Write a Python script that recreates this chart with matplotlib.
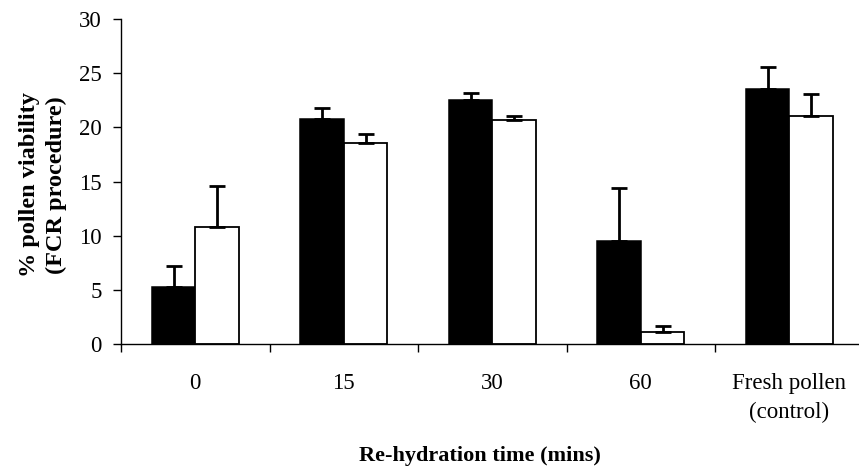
import matplotlib.pyplot as plt
import numpy as np

# viabilidade do pólen (método FCR) por tempo de re-hidratação
categories = ['0', '15', '30', '60', 'Fresh pollen\n(control)']
black_values = [5.3, 20.8, 22.5, 9.5, 23.5]
black_err = [1.9, 1.0, 0.7, 4.9, 2.1]
white_values = [10.8, 18.6, 20.7, 1.1, 21.0]
white_err = [3.8, 0.8, 0.3, 0.6, 2.1]
y_ticks = [0, 5, 10, 15, 20, 25, 30]

plt.rcParams['font.family'] = ['Liberation Serif', 'DejaVu Serif']

fig = plt.figure(figsize=(8.59, 4.69), dpi=100)
ax = fig.add_axes([0.1409, 0.2665, 0.8644, 0.693])

x = np.arange(len(categories))
w = 0.293

# barras com barra de erro só para cima
ax.bar(x - w / 2, black_values, w, color='black', edgecolor='black', linewidth=1.1,
       yerr=[np.zeros(len(x)), black_err],
       error_kw=dict(ecolor='black', elinewidth=2, capsize=5.5, capthick=2))
ax.bar(x + w / 2, white_values, w, color='white', edgecolor='black', linewidth=1.3,
       yerr=[np.zeros(len(x)), white_err],
       error_kw=dict(ecolor='black', elinewidth=2, capsize=5.5, capthick=2))

ax.set_xlim(-0.5, len(categories) - 0.5)
ax.set_ylim(0, 30)
ax.set_yticks(y_ticks)

ax.set_xticks(x)
ax.set_xticklabels(categories)
for t in ax.get_xticklabels():
    t.set_linespacing(1.45)
ax.set_xticks(np.arange(len(categories)) - 0.5, minor=True)
ax.tick_params(axis='x', which='major', length=0, pad=21, labelsize=16.5)
ax.tick_params(axis='x', which='minor', length=6, width=1, direction='out')
ax.tick_params(axis='y', length=6, width=1, direction='out', labelsize=16.5, pad=8)

for s in ['top', 'right']:
    ax.spines[s].set_visible(False)
for s in ['left', 'bottom']:
    ax.spines[s].set_linewidth(1)

ax.set_ylabel('% pollen viability\n(FCR procedure)', fontsize=17.5, fontweight='bold',
              linespacing=1.35)
ax.yaxis.set_label_coords(-0.0727, 0.49)
ax.set_xlabel('Re-hydration time (mins)', fontsize=16, fontweight='bold')
ax.xaxis.set_label_coords(0.483, -0.315)

fig.savefig('out.png', dpi=100)
